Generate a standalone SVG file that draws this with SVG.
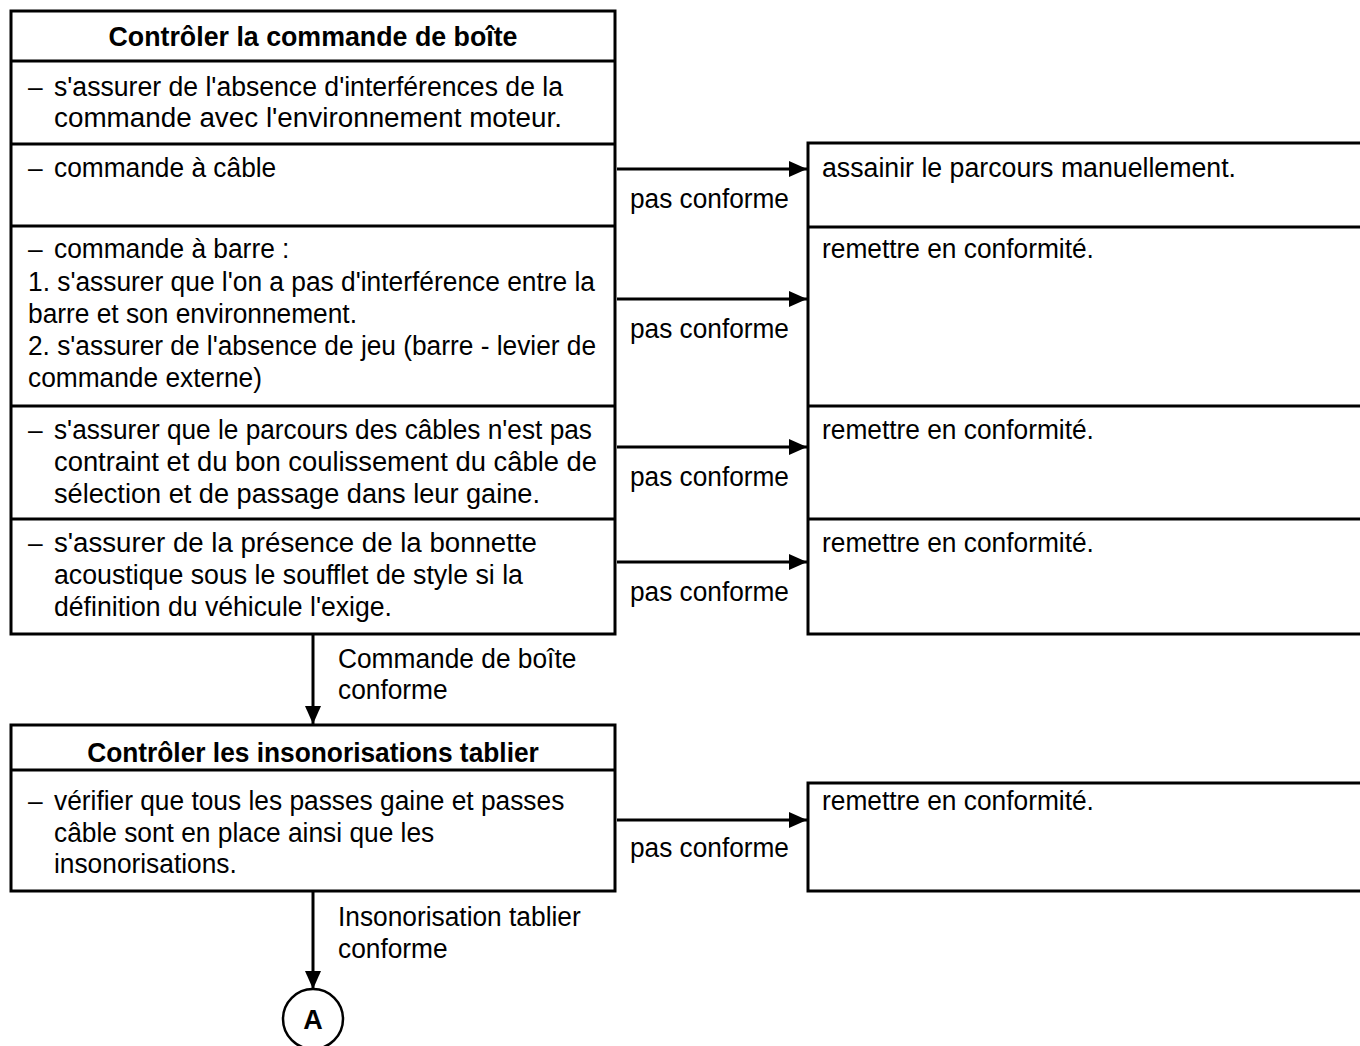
<svg xmlns="http://www.w3.org/2000/svg" width="1360" height="1046" viewBox="0 0 1360 1046">
<defs>
<style>
.box{fill:#fff;stroke:#000;stroke-width:3}
.div{stroke:#000;stroke-width:3}
.t{font-family:"Liberation Sans",Arial,sans-serif;font-size:28px;fill:#000}
.b{font-family:"Liberation Sans",Arial,sans-serif;font-size:28px;font-weight:bold;fill:#000}
.ln{stroke:#000;stroke-width:3;fill:none}
</style>
<marker id="ah" markerWidth="18" markerHeight="16" refX="18" refY="8" orient="auto" markerUnits="userSpaceOnUse">
<path d="M0,0 L18,8 L0,16 Z" fill="#000"/>
</marker>
</defs>
<rect width="1360" height="1046" fill="#fff"/>

<g id="box1">
<rect class="box" x="11" y="11" width="604" height="623"/>
<line class="div" x1="11" y1="61" x2="615" y2="61"/>
<line class="div" x1="11" y1="144" x2="615" y2="144"/>
<line class="div" x1="11" y1="226" x2="615" y2="226"/>
<line class="div" x1="11" y1="406" x2="615" y2="406"/>
<line class="div" x1="11" y1="519" x2="615" y2="519"/>
<g transform="scale(0.94,1)">
<text class="b" x="332.98" y="46" text-anchor="middle" textLength="435.1" lengthAdjust="spacingAndGlyphs">Contrôler la commande de boîte</text>
<text class="t" x="29.79" y="96">–</text>
<text class="t" x="57.45" y="96" textLength="541.5" lengthAdjust="spacingAndGlyphs">s'assurer de l'absence d'interférences de la</text>
<text class="t" x="57.45" y="127" textLength="540.4" lengthAdjust="spacingAndGlyphs">commande avec l'environnement moteur.</text>
<text class="t" x="29.79" y="177">–</text>
<text class="t" x="57.45" y="177">commande à câble</text>
<text class="t" x="29.79" y="258">–</text>
<text class="t" x="57.45" y="258">commande à barre :</text>
<text class="t" x="29.79" y="291" textLength="603.2" lengthAdjust="spacingAndGlyphs">1. s'assurer que l'on a pas d'interférence entre la</text>
<text class="t" x="29.79" y="323">barre et son environnement.</text>
<text class="t" x="29.79" y="355" textLength="604.3" lengthAdjust="spacingAndGlyphs">2. s'assurer de l'absence de jeu (barre - levier de</text>
<text class="t" x="29.79" y="387">commande externe)</text>
<text class="t" x="29.79" y="439">–</text>
<text class="t" x="57.45" y="439" textLength="572.3" lengthAdjust="spacingAndGlyphs">s'assurer que le parcours des câbles n'est pas</text>
<text class="t" x="57.45" y="471" textLength="577.7" lengthAdjust="spacingAndGlyphs">contraint et du bon coulissement du câble de</text>
<text class="t" x="57.45" y="503" textLength="517" lengthAdjust="spacingAndGlyphs">sélection et de passage dans leur gaine.</text>
<text class="t" x="29.79" y="552">–</text>
<text class="t" x="57.45" y="552" textLength="513.8" lengthAdjust="spacingAndGlyphs">s'assurer de la présence de la bonnette</text>
<text class="t" x="57.45" y="584" textLength="498.9" lengthAdjust="spacingAndGlyphs">acoustique sous le soufflet de style si la</text>
<text class="t" x="57.45" y="616" textLength="359.6" lengthAdjust="spacingAndGlyphs">définition du véhicule l'exige.</text>
</g>
</g>

<g id="right1">
<rect class="box" x="808" y="143" width="560" height="491"/>
<line class="div" x1="808" y1="227" x2="1360" y2="227"/>
<line class="div" x1="808" y1="406" x2="1360" y2="406"/>
<line class="div" x1="808" y1="519" x2="1360" y2="519"/>
<g transform="scale(0.94,1)">
<text class="t" x="874.47" y="177" textLength="440.4" lengthAdjust="spacingAndGlyphs">assainir le parcours manuellement.</text>
<text class="t" x="874.47" y="258">remettre en conformité.</text>
<text class="t" x="874.47" y="439">remettre en conformité.</text>
<text class="t" x="874.47" y="552">remettre en conformité.</text>
</g>
</g>

<g id="box2">
<rect class="box" x="11" y="725" width="604" height="166"/>
<line class="div" x1="11" y1="770" x2="615" y2="770"/>
<g transform="scale(0.94,1)">
<text class="b" x="332.98" y="762" text-anchor="middle">Contrôler les insonorisations tablier</text>
<text class="t" x="29.79" y="810">–</text>
<text class="t" x="57.45" y="810">vérifier que tous les passes gaine et passes</text>
<text class="t" x="57.45" y="842">câble sont en place ainsi que les</text>
<text class="t" x="57.45" y="873">insonorisations.</text>
</g>
</g>

<g id="right2">
<rect class="box" x="808" y="783" width="560" height="108"/>
<text class="t" x="874.47" y="810" transform="scale(0.94,1)">remettre en conformité.</text>
</g>

<g id="nodeA">
<circle cx="313" cy="1019" r="30" fill="#fff" stroke="#000" stroke-width="2.5"/>
<text class="b" x="313" y="1029" text-anchor="middle" style="font-size:27px">A</text>
</g>

<g id="connectors">
<line class="ln" x1="617" y1="169" x2="807" y2="169" marker-end="url(#ah)"/>
<line class="ln" x1="617" y1="299" x2="807" y2="299" marker-end="url(#ah)"/>
<line class="ln" x1="617" y1="447" x2="807" y2="447" marker-end="url(#ah)"/>
<line class="ln" x1="617" y1="562" x2="807" y2="562" marker-end="url(#ah)"/>
<line class="ln" x1="617" y1="820" x2="807" y2="820" marker-end="url(#ah)"/>
<line class="ln" x1="313" y1="635" x2="313" y2="724" marker-end="url(#ah)"/>
<line class="ln" x1="313" y1="892" x2="313" y2="989" marker-end="url(#ah)"/>
<g transform="scale(0.94,1)">
<text class="t" x="670.21" y="208" textLength="169.1" lengthAdjust="spacingAndGlyphs">pas conforme</text>
<text class="t" x="670.21" y="338" textLength="169.1" lengthAdjust="spacingAndGlyphs">pas conforme</text>
<text class="t" x="670.21" y="486" textLength="169.1" lengthAdjust="spacingAndGlyphs">pas conforme</text>
<text class="t" x="670.21" y="601" textLength="169.1" lengthAdjust="spacingAndGlyphs">pas conforme</text>
<text class="t" x="670.21" y="857" textLength="169.1" lengthAdjust="spacingAndGlyphs">pas conforme</text>
<text class="t" x="359.57" y="668">Commande de boîte</text>
<text class="t" x="359.57" y="699">conforme</text>
<text class="t" x="359.57" y="926">Insonorisation tablier</text>
<text class="t" x="359.57" y="958">conforme</text>
</g>
</g>
</svg>
